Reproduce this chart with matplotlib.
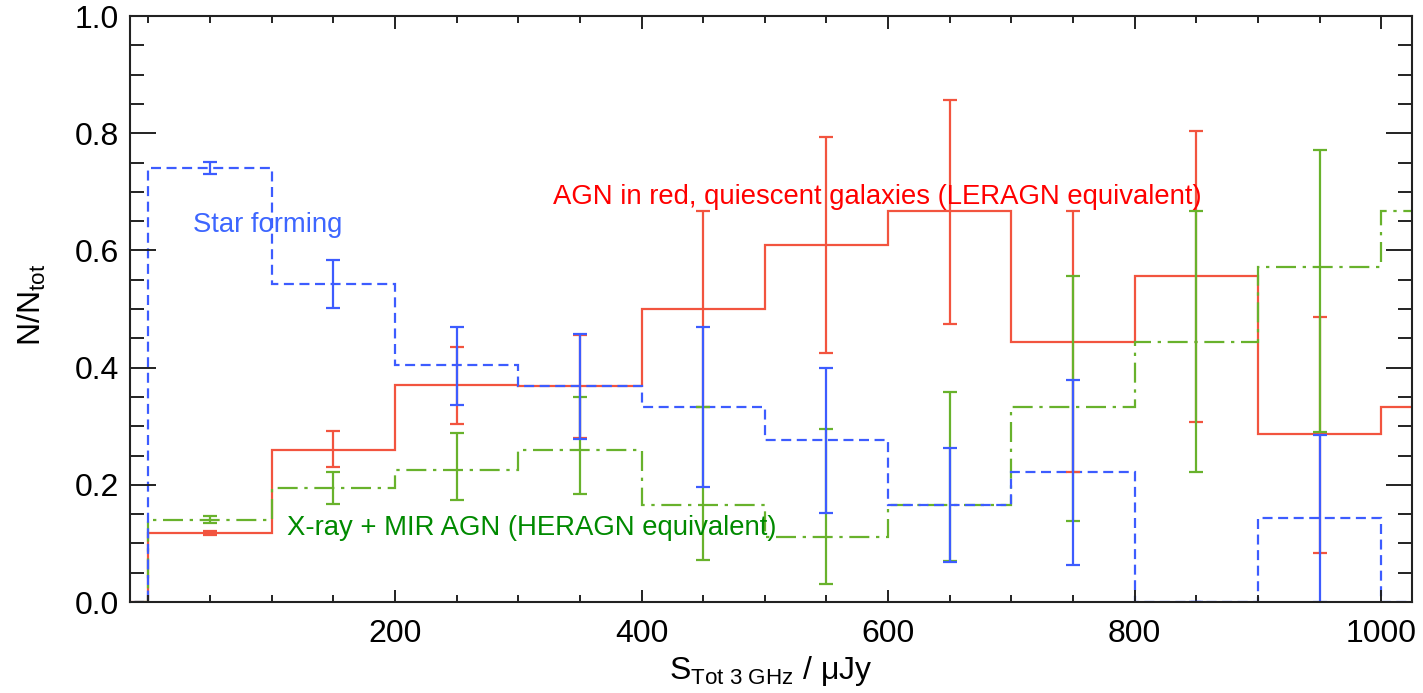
import numpy as np
import matplotlib
matplotlib.use('Agg')
import matplotlib.pyplot as plt
from matplotlib.ticker import MultipleLocator, FixedLocator

plt.rcParams['font.family'] = ['Liberation Sans', 'DejaVu Sans']
plt.rcParams['mathtext.fontset'] = 'custom'
plt.rcParams['mathtext.rm'] = 'Liberation Sans'
plt.rcParams['mathtext.it'] = 'Liberation Sans:italic'

# 100 uJy flux bins, 0 .. 1100
bin_edges = np.arange(0, 1101, 100)
bin_centers = np.arange(50, 1000, 100)

# fractions per bin
star_forming = [0.741, 0.543, 0.404, 0.368, 0.333, 0.276, 0.165, 0.222, 0.0, 0.143, 0.0]
red_agn = [0.118, 0.260, 0.370, 0.368, 0.500, 0.610, 0.667, 0.444, 0.556, 0.286, 0.333]
xray_mir_agn = [0.140, 0.194, 0.225, 0.260, 0.165, 0.111, 0.165, 0.333, 0.444, 0.571, 0.667]

# lower / upper limits of the error bars (first ten bins)
sf_lo = [0.731, 0.502, 0.336, 0.279, 0.197, 0.152, 0.068, 0.063, 0.0, 0.0]
sf_hi = [0.751, 0.584, 0.470, 0.457, 0.470, 0.400, 0.263, 0.378, 0.0, 0.285]
red_lo = [0.114, 0.231, 0.304, 0.280, 0.333, 0.425, 0.474, 0.222, 0.307, 0.083]
red_hi = [0.122, 0.292, 0.435, 0.456, 0.667, 0.794, 0.857, 0.667, 0.804, 0.486]
xm_lo = [0.135, 0.168, 0.174, 0.185, 0.071, 0.031, 0.070, 0.139, 0.222, 0.290]
xm_hi = [0.146, 0.222, 0.288, 0.349, 0.333, 0.295, 0.358, 0.556, 0.667, 0.771]

x_ticks = [200, 400, 600, 800, 1000]
y_ticks = [0.0, 0.2, 0.4, 0.6, 0.8, 1.0]

c_blue = '#3d5cff'
c_red = '#f2543f'
c_green = '#68b22c'

fig = plt.figure(figsize=(14.23, 6.93), dpi=100)
ax = fig.add_axes([130 / 1423, 1 - 602 / 693, 1282 / 1423, 586 / 693])


def draw_hist(vals, lo, hi, color, ls):
    vals = np.asarray(vals)
    # leading empty bin so the outline runs along zero left of the first edge
    edges = np.r_[-100, bin_edges]
    ax.stairs(np.r_[0.0, vals], edges, baseline=None, color=color,
              linestyle=ls, linewidth=1.6)
    v = vals[:len(lo)]
    yerr = [v - np.asarray(lo), np.asarray(hi) - v]
    ax.errorbar(bin_centers, v, yerr=yerr, fmt='none', ecolor=color,
                elinewidth=1.6, capsize=5, capthick=1.6)


draw_hist(red_agn, red_lo, red_hi, c_red, '-')
draw_hist(xray_mir_agn, xm_lo, xm_hi, c_green, (0, (9, 3, 1.5, 3)))
draw_hist(star_forming, sf_lo, sf_hi, c_blue, (0, (4.5, 2.5)))

ax.text(36, 0.643, 'Star forming', color='#3d66ff', fontsize=19.8,
        ha='left', va='center')
ax.text(328, 0.691, 'AGN in red, quiescent galaxies (LERAGN equivalent)',
        color='#ff0000', fontsize=19.8, ha='left', va='center')
ax.text(112, 0.127, 'X-ray + MIR AGN (HERAGN equivalent)',
        color='#008a00', fontsize=19.8, ha='left', va='center')

ax.set_xlim(-15, 1025)
ax.set_ylim(0, 1.0)
ax.xaxis.set_major_locator(FixedLocator(x_ticks))
ax.xaxis.set_minor_locator(MultipleLocator(50))
ax.set_yticks(y_ticks)
ax.set_yticklabels([f'{t:.1f}' for t in y_ticks])
ax.yaxis.set_minor_locator(MultipleLocator(0.05))

for s in ax.spines.values():
    s.set_linewidth(1.5)
    s.set_color('#222222')

ax.tick_params(which='both', direction='in', top=True, right=True,
               color='#222222', width=1.4, labelsize=23)
ax.tick_params(axis='x', which='major', length=9, pad=12)
ax.tick_params(axis='x', which='minor', length=5)
ax.tick_params(axis='y', which='major', length=19, pad=8)
ax.tick_params(axis='y', which='minor', length=10)

ax.set_xlabel(r'S$_{\mathrm{Tot\ 3\ GHz}}$ / μJy', fontsize=23, labelpad=4)
fig.text(32 / 1423, 1 - 305 / 693, r'N/N$_{\mathrm{tot}}$', fontsize=23,
         rotation=90, ha='center', va='center')

fig.savefig('out.png', dpi=100)
plt.close(fig)
